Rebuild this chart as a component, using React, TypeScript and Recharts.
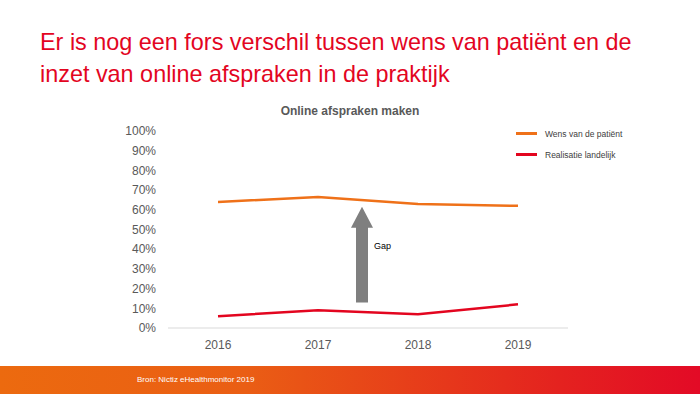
import { LineChart, Line, XAxis, YAxis, ReferenceLine } from 'recharts';

const years = [2016, 2017, 2018, 2019];
const wensPatient = [64, 66.5, 63, 62];
const realisatie = [6, 9, 7, 12];
const yTicks = [0, 10, 20, 30, 40, 50, 60, 70, 80, 90, 100];
// gap arrow: between 2017 and 2018, from realisatie up to wens
const gapX = 2017.44;
const gapFrom = 13;
const gapTo = 61.5;

const ORANGE = '#ef7119';
const RED = '#e3051f';

const series = [
  { key: 'wens', name: 'Wens van de patiënt', color: ORANGE },
  { key: 'real', name: 'Realisatie landelijk', color: RED },
];

const data = years.map((y, i) => ({
  year: y,
  wens: wensPatient[i],
  real: realisatie[i],
}));

function GapArrow(props: any) {
  const { x1, y1, y2 } = props;
  if (x1 == null) return null;
  const bottom = Math.max(y1, y2);
  const top = Math.min(y1, y2);
  const headH = 21;
  const shaftW = 12;
  const headW = 22;
  const pts = [
    [x1 - shaftW / 2, bottom],
    [x1 - shaftW / 2, top + headH],
    [x1 - headW / 2, top + headH],
    [x1, top],
    [x1 + headW / 2, top + headH],
    [x1 + shaftW / 2, top + headH],
    [x1 + shaftW / 2, bottom],
  ]
    .map((p) => p.join(','))
    .join(' ');
  return (
    <g>
      <polygon points={pts} fill="#7f7f7f" />
      <text x={x1 + 12} y={(top + bottom) / 2 - 6} fontSize={9} fill="#000" fontFamily="'Liberation Sans', Arial, sans-serif">
        Gap
      </text>
    </g>
  );
}

export default function App() {
  return (
    <div
      style={{
        position: 'absolute',
        left: 0,
        top: 0,
        width: 700,
        height: 394,
        background: '#fff',
        overflow: 'hidden',
        fontFamily: "'Liberation Sans', Arial, sans-serif",
      }}
    >
      <div style={{ position: 'absolute', left: 40, top: 26, fontSize: 23.4, lineHeight: '32px', color: RED }}>
        Er is nog een fors verschil tussen wens van patiënt en de
        <br />
        inzet van online afspraken in de praktijk
      </div>

      <div
        style={{
          position: 'absolute',
          left: 0,
          width: 700,
          top: 104,
          textAlign: 'center',
          fontSize: 12,
          fontWeight: 'bold',
          color: '#595959',
        }}
      >
        Online afspraken maken
      </div>

      <div style={{ position: 'absolute', left: 516, top: 123 }}>
        {series.map((s) => (
          <div key={s.key} style={{ display: 'flex', alignItems: 'center', height: 21 }}>
            <span style={{ display: 'inline-block', width: 21, height: 2.5, background: s.color, marginRight: 8 }} />
            <span style={{ fontSize: 8.5, color: '#404040' }}>{s.name}</span>
          </div>
        ))}
      </div>

      <div style={{ position: 'absolute', left: 0, top: 0 }}>
        <LineChart width={700} height={394} data={data} margin={{ top: 131, right: 132, bottom: 36, left: 104 }}>
          <XAxis
            dataKey="year"
            type="number"
            domain={[2015.5, 2019.5]}
            ticks={years}
            interval={0}
            tickLine={false}
            axisLine={{ stroke: '#d9d9d9' }}
            tick={{ fontSize: 12, fill: '#595959' }}
            tickMargin={6}
            height={30}
          />
          <YAxis
            domain={[0, 100]}
            ticks={yTicks}
            interval={0}
            tickFormatter={(v: number) => `${v}%`}
            axisLine={false}
            tickLine={false}
            tick={{ fontSize: 12, fill: '#595959' }}
            width={64}
            tickMargin={6}
          />
          {series.map((s) => (
            <Line
              key={s.key}
              type="linear"
              dataKey={s.key}
              name={s.name}
              stroke={s.color}
              strokeWidth={2.5}
              dot={false}
              isAnimationActive={false}
            />
          ))}
          <ReferenceLine
            segment={[
              { x: gapX, y: gapFrom },
              { x: gapX, y: gapTo },
            ]}
            shape={<GapArrow />}
            ifOverflow="visible"
          />
        </LineChart>
      </div>

      <div
        style={{
          position: 'absolute',
          left: 0,
          top: 366,
          width: 700,
          height: 28,
          background: 'linear-gradient(to right, #ec6a0f 0%, #ea5e14 35%, #e4221f 80%, #e30a26 100%)',
        }}
      >
        <div style={{ position: 'absolute', left: 137, top: 9, fontSize: 8, color: '#fff' }}>
          Bron: Nictiz eHealthmonitor 2019
        </div>
      </div>
    </div>
  );
}
